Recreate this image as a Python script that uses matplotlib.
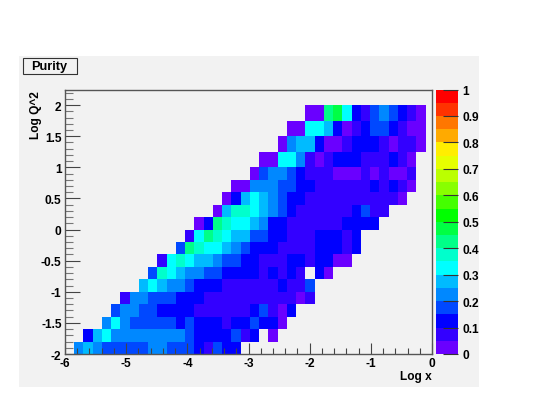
import numpy as np
import matplotlib
matplotlib.use("Agg")
import matplotlib.pyplot as plt
import matplotlib.ticker as mticker
from matplotlib.colors import ListedColormap, BoundaryNorm
from matplotlib.patches import Rectangle

plt.rcParams['font.family'] = ['Liberation Sans', 'DejaVu Sans']
plt.rcParams['font.weight'] = 'bold'

W, H = 536, 414

title_text = "Purity"
x_label = "Log x"
y_label = "Log Q^2"
x_ticks = [-6, -5, -4, -3, -2, -1, 0]
y_ticks = [-2, -1.5, -1, -0.5, 0, 0.5, 1, 1.5, 2]
y_labels = ["-2", "-1.5", "-1", "-0.5", "0", "0.5", "1", "1.5", "2"]
z_ticks = [0, 0.1, 0.2, 0.3, 0.4, 0.5, 0.6, 0.7, 0.8, 0.9, 1]
z_labels = ["0", "0.1", "0.2", "0.3", "0.4", "0.5", "0.6", "0.7", "0.8", "0.9", "1"]

palette = ['#6a00ff', '#3300ff', '#0000ff', '#0048ff', '#0088ff',
           '#00bbff', '#00ffff', '#00ffcc', '#00ff88', '#00ff44',
           '#00ff00', '#44ff00', '#88ff00', '#bbff00', '#e6ff00',
           '#ffee00', '#ffaa00', '#ff7700', '#ff3300', '#ff0000']

y_edges = [-2, -1.8, -1.6, -1.4, -1.2, -1, -0.8, -0.6, -0.4, -0.2, 0, 0.2,
           0.4, 0.6, 0.8, 1, 1.25, 1.5, 1.75, 2]
x_bin_start = -6.0
x_bin_width = 0.1512
n_columns = 39

# first column of each row (bottom to top), then purity class of each cell
row_start = [1, 2, 4, 5, 6, 8, 9, 10, 12, 13, 14, 16, 17, 18, 20, 21, 23, 24, 26]
row_levels = [
    [4, 5, 4, 3, 3, 3, 3, 3, 4, 4, 3, 3, 3, 2, 1, 3, 2, 2],
    [2, 5, 6, 4, 4, 4, 4, 4, 4, 4, 4, 3, 2, 2, 2, 2, 3, 1, 2, None, 0],
    [4, 6, 4, 3, 3, 3, 3, 3, 2, 3, 2, 2, 2, 1, 2, 2, 3, 2, 2, 0],
    [3, 4, 4, 3, 3, 2, 2, 2, 2, 1, 1, 1, 1, 1, 1, 2, 3, 1, 0, 2],
    [1, 4, 4, 3, 3, 3, 2, 2, 2, 1, 1, 1, 1, 1, 1, 1, 1, 1, 1, 0, 1],
    [5, 6, 5, 4, 4, 3, 2, 2, 2, 1, 1, 1, 1, 1, 1, 2, 1, 1, 3],
    [3, 7, 6, 5, 4, 4, 3, 3, 2, 2, 2, 2, 1, 2, 1, 2, 1, None, 2, 0],
    [1, 6, 7, 6, 5, 5, 4, 3, 3, 2, 2, 1, 1, 1, 2, 2, 1, 2, 2, 0, 0],
    [3, 8, 7, 6, 6, 5, 4, 3, 2, 2, 2, 1, 1, 1, 1, 2, 2, 2, 1, 2],
    [1, 6, 8, 7, 6, 5, 5, 3, 3, 2, 2, 1, 1, 1, 2, 2, 2, 1, 2],
    [0, 2, 8, 7, 6, 6, 5, 4, 2, 2, 1, 1, 1, 1, 1, 1, 2, 2, 2, 2],
    [0, 5, 7, 7, 6, 5, 4, 3, 2, 1, 1, 1, 1, 1, 1, 2, 3, 1, 1],
    [0, 2, 5, 6, 5, 4, 3, 2, 2, 1, 1, 1, 1, 1, 1, 1, 1, 1, 1, 0],
    [0, 0, 4, 4, 4, 3, 3, 2, 2, 1, 1, 1, 1, 1, 1, 2, 1, 2, 1, 0],
    [0, 3, 4, 4, 3, 2, 1, 1, 1, 0, 0, 0, 1, 0, 1, 0, 0, 1],
    [0, 0, 6, 6, 4, 1, 0, 1, 2, 2, 2, 1, 1, 1, 2, 1, 0],
    [0, 4, 5, 5, 2, 0, 0, 1, 2, 2, 2, 1, 0, 1, 1, 0],
    [0, 0, 6, 6, 5, 2, 0, 1, 2, 3, 3, 2, 1, 0, 0],
    [0, 0, 8, 9, 6, 2, 1, 3, 4, 3, 2, 1, 0],
]

purity = np.full((len(row_levels), n_columns), np.nan)
for r, (start, levels) in enumerate(zip(row_start, row_levels)):
    for k, level in enumerate(levels):
        if level is not None:
            purity[r, start + k] = (level + 0.5) * 0.05

x_edges = x_bin_start + x_bin_width * np.arange(n_columns + 1)

fig = plt.figure(figsize=(W / 100, H / 100), dpi=100, facecolor='white')


def box(left, top, right, bottom):
    return [left / W, 1 - bottom / H, (right - left) / W, (bottom - top) / H]


def add_rect(left, top, right, bottom, **kw):
    l, b, w, h = box(left, top, right, bottom)
    fig.add_artist(Rectangle((l, b), w, h, transform=fig.transFigure, **kw))


add_rect(19, 57, 479, 388, facecolor='#f2f2f2', edgecolor='none', zorder=-5)

ax = fig.add_axes(box(65, 90.5, 432, 355), facecolor='#f2f2f2')
cmap = ListedColormap(palette)
norm = BoundaryNorm(np.linspace(0, 1, len(palette) + 1), cmap.N)
mesh = ax.pcolormesh(x_edges, y_edges, purity, cmap=cmap, norm=norm, shading='flat')
ax.set_xlim(-6, 0)
ax.set_ylim(-2, 2.25)
ax.set_xticks(x_ticks)
ax.set_xticklabels([str(t) for t in x_ticks])
ax.set_yticks(y_ticks)
ax.set_yticklabels(y_labels)
ax.xaxis.set_minor_locator(mticker.MultipleLocator(0.2))
ax.yaxis.set_minor_locator(mticker.MultipleLocator(0.1))
ax.tick_params(which='major', direction='in', labelsize=8.6, color='#444444')
ax.tick_params(axis='x', which='major', length=8, width=0.8, pad=2.5)
ax.tick_params(axis='x', which='minor', direction='in', length=4, width=0.8, color='#444444')
ax.tick_params(axis='y', which='major', length=11, width=0.8, pad=2.5)
ax.tick_params(axis='y', which='minor', direction='in', length=5.5, width=0.8, color='#777777')
for s in ax.spines.values():
    s.set_color('#555555')
    s.set_linewidth(1.0)

cax = fig.add_axes(box(435.5, 90.5, 458, 355))
cb = fig.colorbar(mesh, cax=cax, spacing='proportional', drawedges=False)
cb.set_ticks(z_ticks)
cb.set_ticklabels(z_labels)
cb.minorticks_off()
cb.ax.tick_params(direction='in', length=11, width=0.8, color='#333333', labelsize=8.6, pad=3)
cb.outline.set_linewidth(0)

fig.text(432 / W, 1 - 377 / H, x_label, ha='right', va='center', fontsize=8.6)
fig.text(35.5 / W, 1 - 91 / H, y_label, ha='center', va='top', rotation=90, fontsize=8.6)

add_rect(25, 61, 78, 76, facecolor='#222222', edgecolor='none')
add_rect(23, 59, 76.5, 74.5, facecolor='#f2f2f2', edgecolor='#333333', linewidth=0.8)
fig.text(49 / W, 1 - 67 / H, title_text, ha='center', va='center', fontsize=9.2)

fig.savefig('out.png', dpi=100, facecolor='white')
